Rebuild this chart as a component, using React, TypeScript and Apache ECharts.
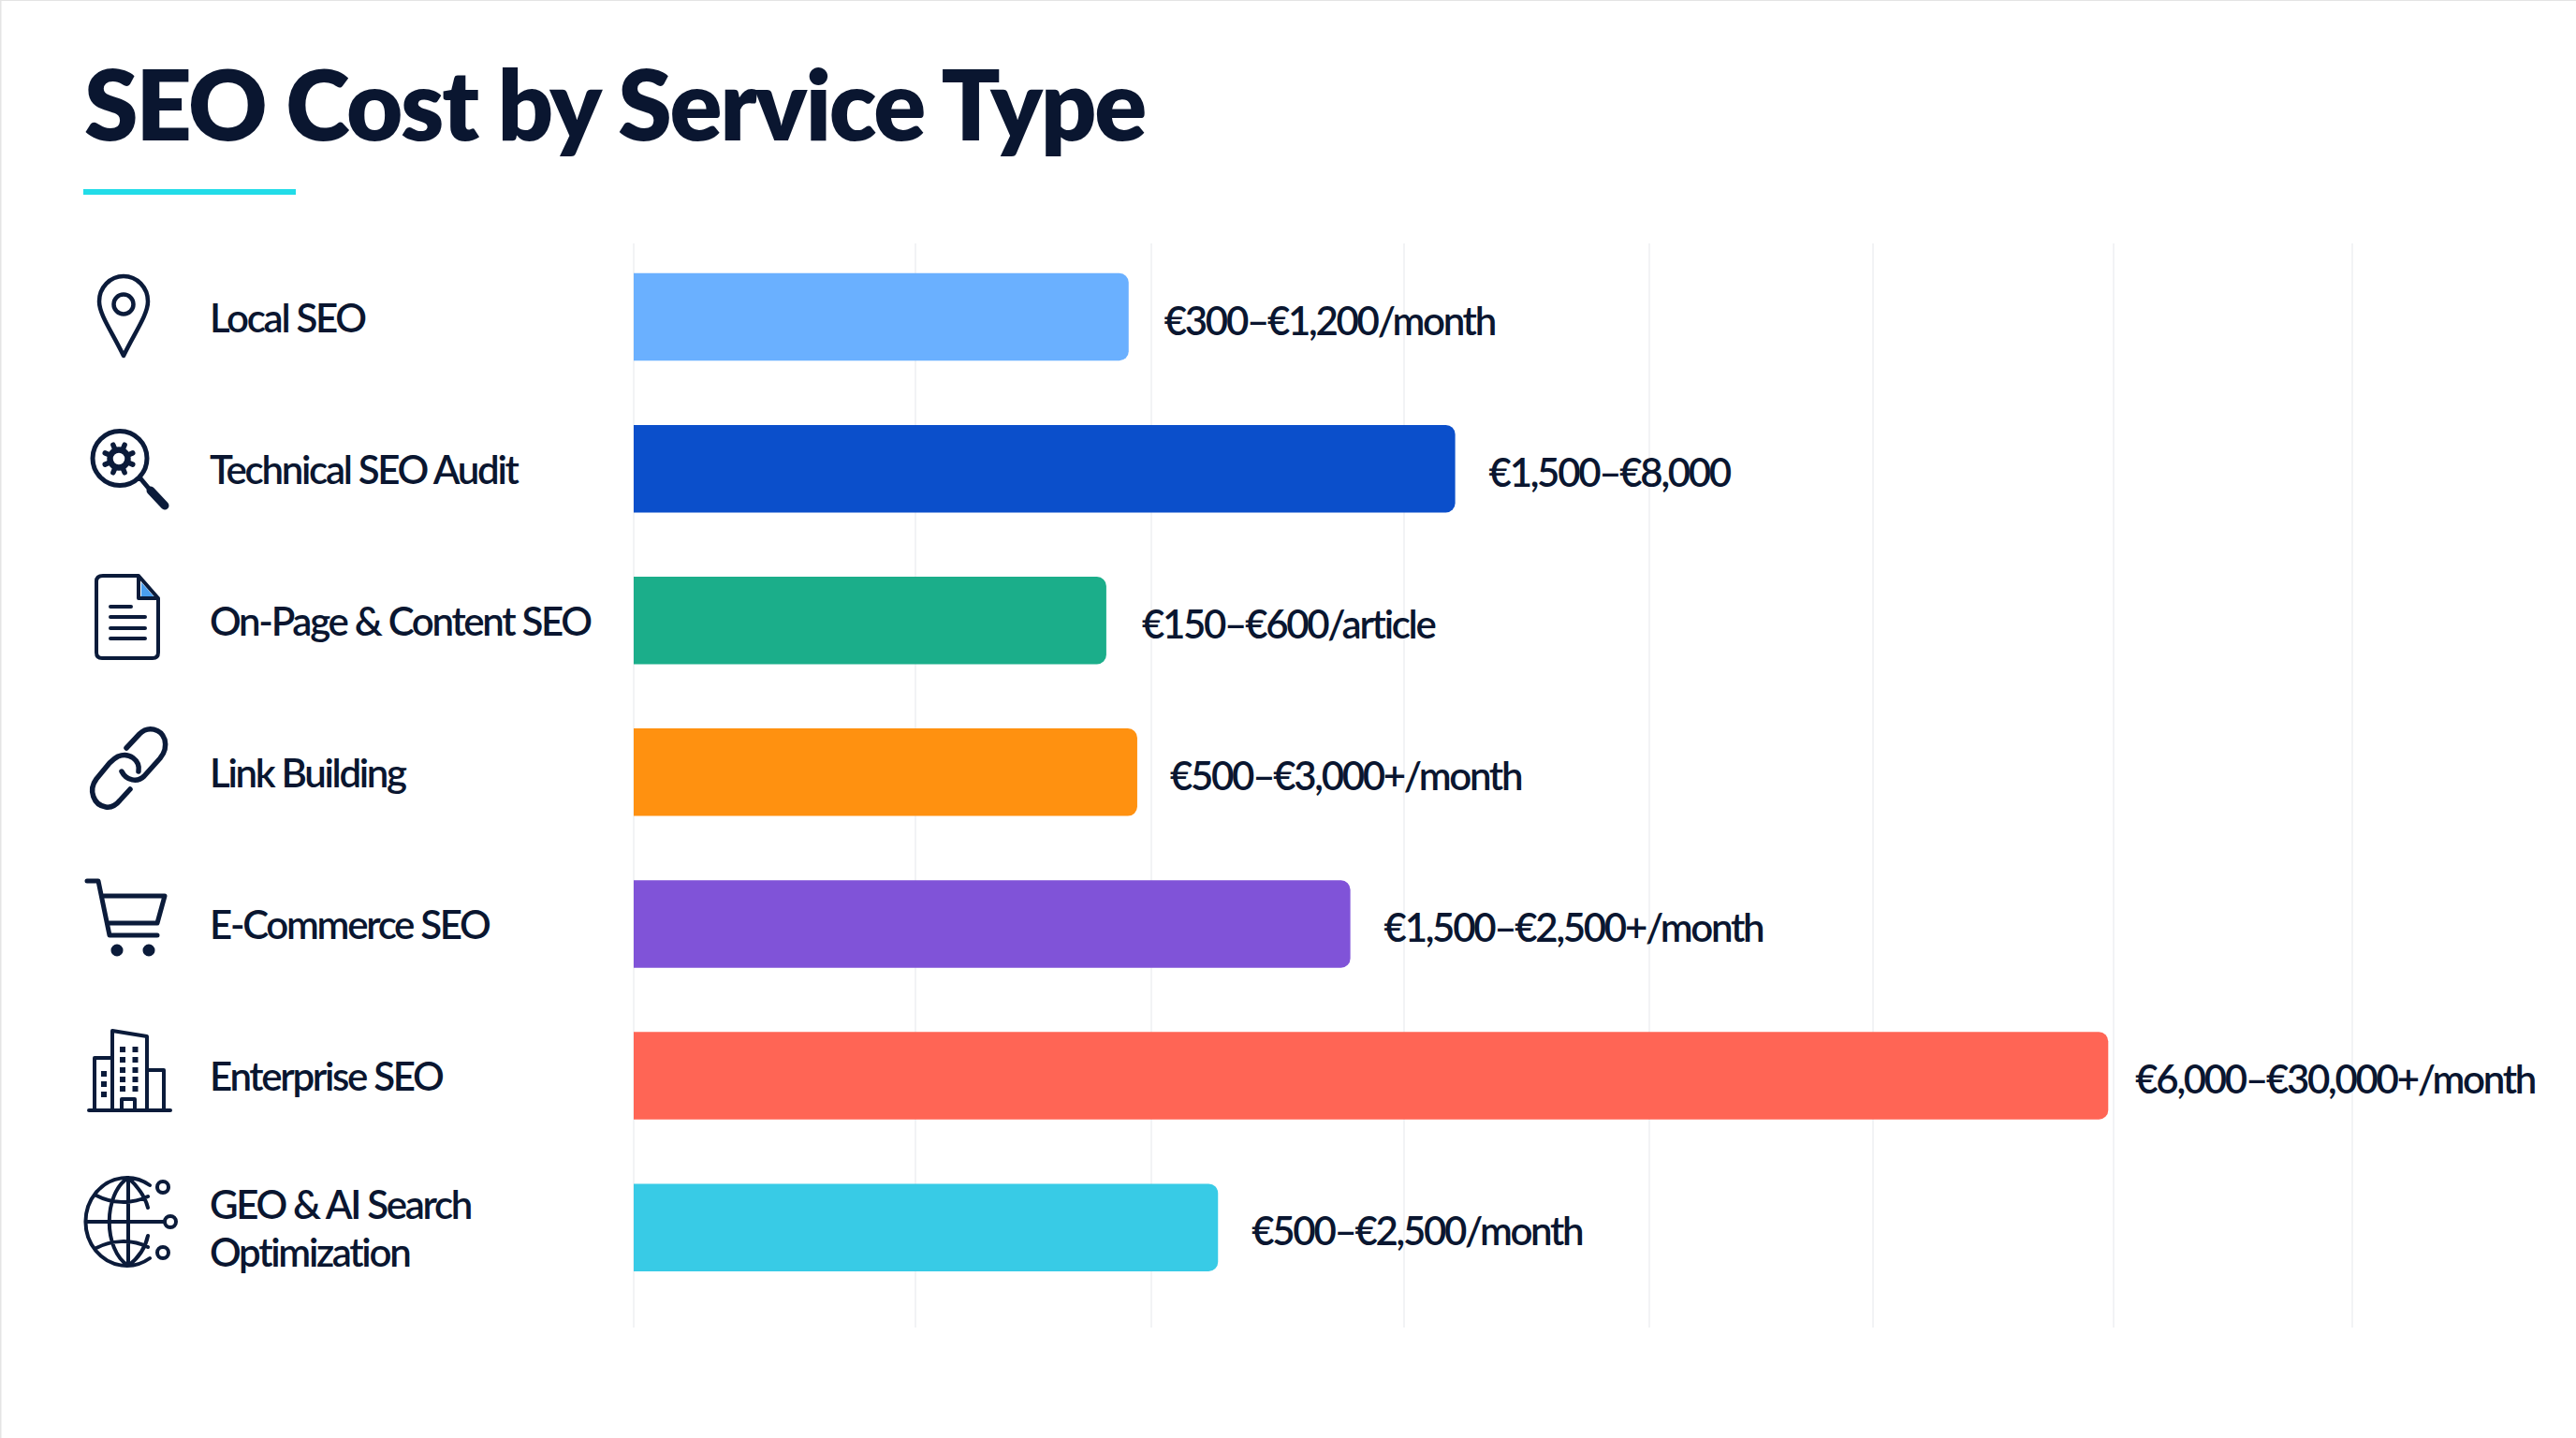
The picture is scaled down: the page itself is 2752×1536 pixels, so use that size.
import React, { useEffect, useRef } from "react";
import * as echarts from "echarts";

const title = "SEO Cost by Service Type";
const categories = ["Local SEO", "Technical SEO Audit", "On-Page & Content SEO", "Link Building", "E-Commerce SEO", "Enterprise SEO", "GEO & AI Search\nOptimization"];
const barLengths = [288, 478, 275, 293, 417, 858, 340];
const priceLabels = ["€300–€1,200/month", "€1,500–€8,000", "€150–€600/article", "€500–€3,000+/month", "€1,500–€2,500+/month", "€6,000–€30,000+/month", "€500–€2,500/month"];
const barColors = ["#6AB0FF", "#0B4FCB", "#1BAE8A", "#FF9110", "#8053D8", "#FF6555", "#38CBE6"];
const gridValues = [0, 164, 301, 448, 591, 721, 861, 1000];

const INK = "#0B1B3A";
const TEXT = "#0A1630";
const FONT = "Lato, 'Noto Sans', sans-serif";

const circle = (cx: number, cy: number, r: number) => `M${cx - r} ${cy}a${r} ${r} 0 1 0 ${2 * r} 0a${r} ${r} 0 1 0 ${-2 * r} 0Z`;
const sq = (x: number, y: number, s: number) => `M${x} ${y}h${s}v${s}h${-s}Z`;
const gearTeeth = (cx: number, cy: number) => {
  let d = "";
  for (let i = 0; i < 8; i++) {
    const a = (i * Math.PI) / 4 + Math.PI / 8;
    d += `M${cx + 10 * Math.cos(a)} ${cy + 10 * Math.sin(a)}L${cx + 16 * Math.cos(a)} ${cy + 16 * Math.sin(a)}`;
  }
  return d;
};

const iconStroke: Record<string, [string, number]> = {
  pin: [`M132 380C120 355 106 336 106 322A26 27 0 0 1 158 322C158 336 144 355 132 380Z${circle(132, 325, 10.5)}`, 4.5],
  lens: [`${circle(128, 489.5, 29)}M150 511L160 523`, 5],
  gear: [circle(127, 490, 9.5), 6.5],
  gearT: [gearTeeth(127, 490), 5.5],
  handle: ["M161 524L176 540", 9],
  doc: ["M110 615H148L169 639V697Q169 703 163 703H109Q103 703 103 697V621Q103 615 110 615ZM148 615V639H169M118 648H140M118 659H155M118 671H155M118 682H155", 4],
  chain: ["M135 799L149 784C158 775 172 778 176 790C178 798 176 804 171 810L154 829C147 836 135 834 130 824M148 824C150 812 138 803 126 808C122 810 120 812 117 815L103 832C94 844 100 860 113 862C120 863 124 860 128 855L139 843", 5.5],
  cart: ["M93 941H105L117 999H168M111 957H176L168 986H115", 5],
  building: ["M95 1186H182M120 1186V1101L157 1107V1186M120 1130H101V1186M157 1143H175V1186M130 1186V1174H144V1186", 4],
  globe: [`M160 1266A44 47 0 1 0 160 1344M137 1258V1352M94 1305H176M137 1258C110 1275 110 1335 137 1352M137 1258C150 1270 156 1282 158 1290M158 1320C156 1330 150 1342 137 1352M103 1277C118 1285 140 1287 158 1278M103 1333C118 1325 140 1323 158 1332${circle(174, 1268, 6)}${circle(182, 1305, 6)}${circle(174, 1338, 6)}`, 4],
};
const iconFill: Record<string, [string, string]> = {
  docFold: ["M151 622L165 638H151Z", "#4A9FF0"],
  wheels: [circle(125, 1015, 6.5) + circle(159, 1015, 6.5), INK],
  windows: [[131, 144.5].flatMap((x) => [1118, 1129, 1140, 1150, 1160].map((y) => sq(x - 3, y, 6))).join("") + [1144, 1155, 1166].map((y) => sq(108, y, 6)).join(""), INK],
};
Object.entries(iconStroke).forEach(([k, v]) => echarts.graphic.registerShape("ic_" + k, echarts.graphic.extendPath(v[0], {})));
Object.entries(iconFill).forEach(([k, v]) => echarts.graphic.registerShape("if_" + k, echarts.graphic.extendPath(v[0], {})));

export default function App() {
  const ref = useRef<HTMLDivElement>(null);
  useEffect(() => {
    const chart = echarts.init(ref.current!, null, { renderer: "svg" });
    const gridBox = { left: 677, width: 1836 };
    const labelGaps = [38, 36, 38, 35, 36, 29, 36];
    chart.setOption({
      animation: false,
      backgroundColor: "#FFFFFF",
      title: { text: title, left: 85, top: 52, textStyle: { fontFamily: FONT, fontSize: 104, fontWeight: 800, color: TEXT } },
      grid: [
        { ...gridBox, top: 257.5, height: 1134.7 },
        { ...gridBox, top: 260, height: 1158 },
      ],
      xAxis: [
        { type: "value", gridIndex: 0, min: 0, max: 1000, show: false },
        { type: "value", gridIndex: 1, min: 0, max: 1000, show: false },
      ],
      yAxis: [
        {
          type: "category", gridIndex: 0, inverse: true, data: categories,
          axisLine: { show: false }, axisTick: { show: false },
          axisLabel: { align: "left", margin: 453, fontFamily: FONT, fontSize: 42, fontWeight: 600, color: TEXT, lineHeight: 51, padding: [4, 0, 0, 0] },
        },
        { type: "value", gridIndex: 1, min: 0, max: 1, show: false },
      ],
      series: [
        {
          type: "line", xAxisIndex: 1, yAxisIndex: 1, data: [], z: 1, silent: true,
          markLine: {
            silent: true, symbol: "none", z: 1, label: { show: false },
            lineStyle: { color: "#F2F3F5", width: 2, type: "solid" },
            data: gridValues.map((v) => ({ xAxis: v })),
          },
        },
        {
          type: "bar", xAxisIndex: 0, yAxisIndex: 0, z: 2, barWidth: 93.5,
          data: barLengths.map((v, i) => ({
            value: v,
            itemStyle: { color: barColors[i], borderRadius: [0, 10, 10, 0] },
            label: {
              show: true, position: "right", distance: labelGaps[i], offset: [0, 3],
              formatter: priceLabels[i], fontFamily: FONT, fontSize: 42, fontWeight: 600, color: TEXT,
            },
          })),
        },
      ],
      graphic: [
        { type: "rect", shape: { x: 89, y: 202, width: 227, height: 6 }, style: { fill: "#22DCE8" } },
        { type: "rect", shape: { x: 0, y: 0, width: 2752, height: 1 }, style: { fill: "#E4E4E4" } },
        { type: "rect", shape: { x: 0, y: 0, width: 1.5, height: 1536 }, style: { fill: "#E4E4E4" } },
        ...Object.entries(iconFill).map(([k, v]) => ({ type: "if_" + k, x: 0, y: 0, style: { fill: v[1] } })),
        ...Object.entries(iconStroke).map(([k, v]) => ({
          type: "ic_" + k, x: 0, y: 0,
          style: { fill: "none", stroke: INK, lineWidth: v[1], lineCap: "round", lineJoin: "round" },
        })),
      ],
    });
    return () => chart.dispose();
  }, []);
  return (
    <>
      <style>{`body{margin:0} #root text{letter-spacing:-0.055em} #root text[style*="104px"]{letter-spacing:-0.022em}`}</style>
      <div ref={ref} style={{ width: 2752, height: 1536 }} />
    </>
  );
}
